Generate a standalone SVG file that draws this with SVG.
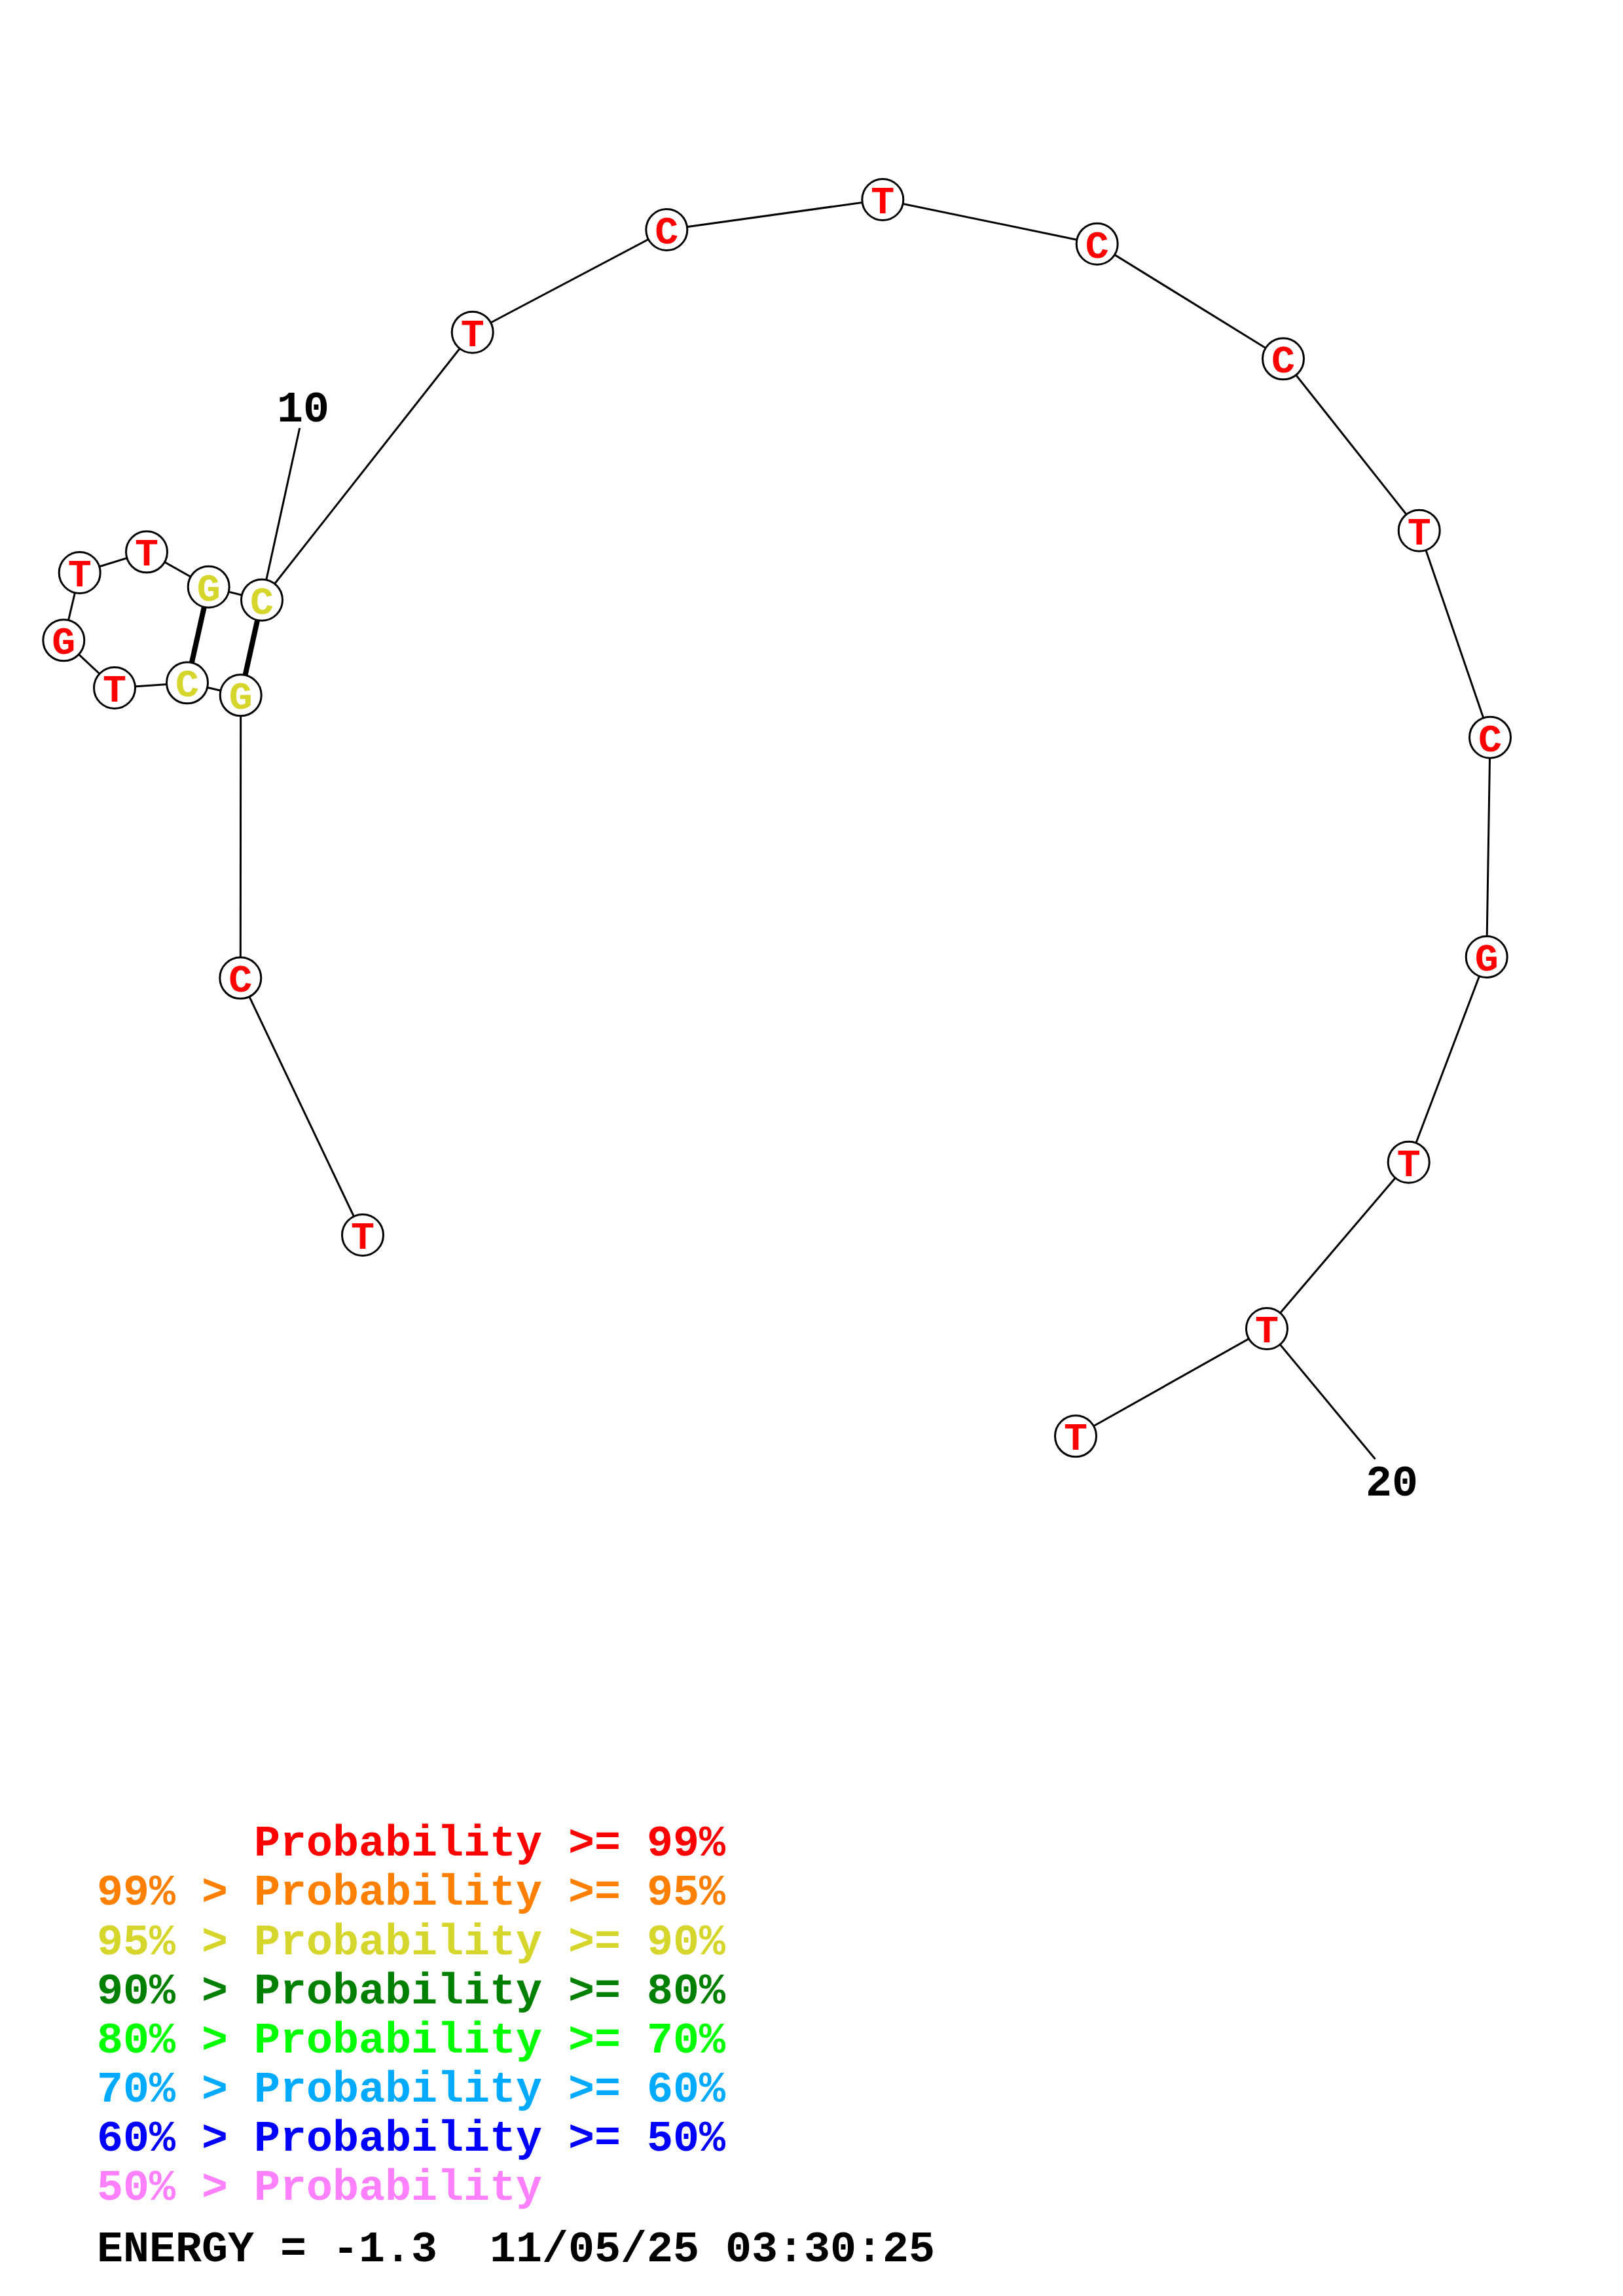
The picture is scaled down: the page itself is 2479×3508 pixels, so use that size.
<svg xmlns="http://www.w3.org/2000/svg" width="2479" height="3508" viewBox="0 0 2479 3508">
<style>
.bb{stroke:#000;stroke-width:3;fill:none}
.pr{stroke:#000;stroke-width:8;fill:none}
.nc{fill:#fff;stroke:#000;stroke-width:3}
.nt{font-family:"Liberation Mono","Courier New",monospace;font-weight:bold;font-size:60px;text-anchor:middle}
.r{fill:#FF0000}
.y{fill:#D5D52C}
.lbl{font-family:"Liberation Mono","Courier New",monospace;font-weight:bold;font-size:66.67px;fill:#000}
.lg{font-family:"Liberation Mono","Courier New",monospace;font-weight:bold;font-size:66.67px}
</style>
<rect width="2479" height="3508" fill="#fff"/>
<g id="connectors">
<polyline class="bb" points="554,1887 367.3,1494.3 367.7,1062.3 286,1043.3 175,1051 97.3,978.3 121.7,875 224,843.3 318.7,896.7 400,916.7 721.7,507.7 1018.3,351 1348.3,305 1675.7,372.7 1960,548.3 2167.7,810.7 2276,1126.7 2270.7,1462 2151.7,1775.7 1935,2030 1643,2194.3"/>
<line class="pr" x1="367.7" y1="1062.3" x2="400" y2="916.7"/>
<line class="pr" x1="286" y1="1043.3" x2="318.7" y2="896.7"/>
<line class="bb" x1="400" y1="916.7" x2="457.7" y2="654"/>
<line class="bb" x1="1935" y1="2030" x2="2100.5" y2="2229.3"/>
</g>
<g id="n1"><circle class="nc" cx="554" cy="1887" r="31.5"/><text class="nt r" x="554" y="1908">T</text></g>
<g id="n2"><circle class="nc" cx="367.3" cy="1494.3" r="31.5"/><text class="nt r" x="367.3" y="1515.3">C</text></g>
<g id="n3"><circle class="nc" cx="367.7" cy="1062.3" r="31.5"/><text class="nt y" x="367.7" y="1083.3">G</text></g>
<g id="n4"><circle class="nc" cx="286" cy="1043.3" r="31.5"/><text class="nt y" x="286" y="1064.3">C</text></g>
<g id="n5"><circle class="nc" cx="175" cy="1051" r="31.5"/><text class="nt r" x="175" y="1072">T</text></g>
<g id="n6"><circle class="nc" cx="97.3" cy="978.3" r="31.5"/><text class="nt r" x="97.3" y="999.3">G</text></g>
<g id="n7"><circle class="nc" cx="121.7" cy="875" r="31.5"/><text class="nt r" x="121.7" y="896">T</text></g>
<g id="n8"><circle class="nc" cx="224" cy="843.3" r="31.5"/><text class="nt r" x="224" y="864.3">T</text></g>
<g id="n9"><circle class="nc" cx="318.7" cy="896.7" r="31.5"/><text class="nt y" x="318.7" y="917.7">G</text></g>
<g id="n10"><circle class="nc" cx="400" cy="916.7" r="31.5"/><text class="nt y" x="400" y="937.7">C</text></g>
<g id="n11"><circle class="nc" cx="721.7" cy="507.7" r="31.5"/><text class="nt r" x="721.7" y="528.7">T</text></g>
<g id="n12"><circle class="nc" cx="1018.3" cy="351" r="31.5"/><text class="nt r" x="1018.3" y="372">C</text></g>
<g id="n13"><circle class="nc" cx="1348.3" cy="305" r="31.5"/><text class="nt r" x="1348.3" y="326">T</text></g>
<g id="n14"><circle class="nc" cx="1675.7" cy="372.7" r="31.5"/><text class="nt r" x="1675.7" y="393.7">C</text></g>
<g id="n15"><circle class="nc" cx="1960" cy="548.3" r="31.5"/><text class="nt r" x="1960" y="569.3">C</text></g>
<g id="n16"><circle class="nc" cx="2167.7" cy="810.7" r="31.5"/><text class="nt r" x="2167.7" y="831.7">T</text></g>
<g id="n17"><circle class="nc" cx="2276" cy="1126.7" r="31.5"/><text class="nt r" x="2276" y="1147.7">C</text></g>
<g id="n18"><circle class="nc" cx="2270.7" cy="1462" r="31.5"/><text class="nt r" x="2270.7" y="1483">G</text></g>
<g id="n19"><circle class="nc" cx="2151.7" cy="1775.7" r="31.5"/><text class="nt r" x="2151.7" y="1796.7">T</text></g>
<g id="n20"><circle class="nc" cx="1935" cy="2030" r="31.5"/><text class="nt r" x="1935" y="2051">T</text></g>
<g id="n21"><circle class="nc" cx="1643" cy="2194.3" r="31.5"/><text class="nt r" x="1643" y="2215.3">T</text></g>
<g id="labels">
<text class="lbl" x="423" y="644">10</text>
<text class="lbl" x="2086" y="2285">20</text>
</g>
<g id="legend">
<text class="lg" x="388" y="2835" fill="#FF0000">Probability &gt;= 99%</text>
<text class="lg" x="148" y="2910" fill="#FF8000">99% &gt; Probability &gt;= 95%</text>
<text class="lg" x="148" y="2985.5" fill="#D5D52C">95% &gt; Probability &gt;= 90%</text>
<text class="lg" x="148" y="3060.5" fill="#008000">90% &gt; Probability &gt;= 80%</text>
<text class="lg" x="148" y="3135.5" fill="#00FF00">80% &gt; Probability &gt;= 70%</text>
<text class="lg" x="148" y="3210.5" fill="#00AAFF">70% &gt; Probability &gt;= 60%</text>
<text class="lg" x="148" y="3285.5" fill="#0000FF">60% &gt; Probability &gt;= 50%</text>
<text class="lg" x="148" y="3360.5" fill="#FF80FF">50% &gt; Probability</text>
<text class="lg" x="148" y="3455" fill="#000" xml:space="preserve">ENERGY = -1.3  11/05/25 03:30:25</text>
</g>
</svg>
